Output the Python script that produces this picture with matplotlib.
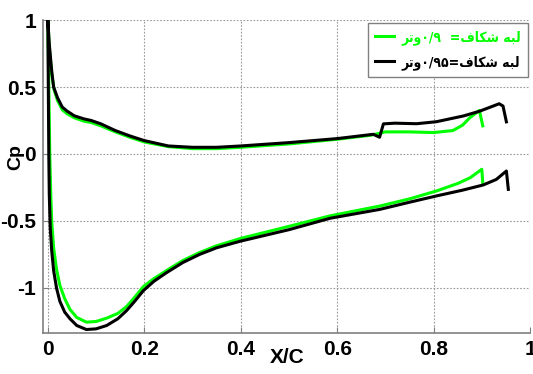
import matplotlib
matplotlib.use("Agg")
import matplotlib.pyplot as plt
import numpy as np

# pressure coefficient along the chord, slot edge at 0.9 chord
x_up_90 = [0.0, 0.003, 0.008, 0.013, 0.02, 0.03, 0.04, 0.055, 0.075, 0.09, 0.11, 0.14,
           0.17, 0.2, 0.25, 0.3, 0.35, 0.4, 0.5, 0.6, 0.67, 0.7, 0.75, 0.8, 0.84,
           0.86, 0.875, 0.895, 0.902]
cp_up_90 = [1.0, 0.8, 0.6, 0.48, 0.4, 0.33, 0.3, 0.27, 0.245, 0.235, 0.21, 0.165,
            0.125, 0.09, 0.055, 0.04, 0.04, 0.05, 0.075, 0.11, 0.14, 0.165, 0.165, 0.16, 0.175,
            0.215, 0.27, 0.325, 0.21]
x_lo_90 = [0.0, 0.002, 0.004, 0.006, 0.008, 0.012, 0.018, 0.025, 0.035, 0.046, 0.06, 0.08,
           0.1, 0.122, 0.145, 0.163, 0.18, 0.198, 0.22, 0.246, 0.28, 0.315, 0.35, 0.4,
           0.5, 0.585, 0.689, 0.75, 0.806, 0.85, 0.876, 0.9, 0.902]
cp_lo_90 = [1.0, 0.5, 0.0, -0.3, -0.5, -0.7, -0.86, -0.98, -1.08, -1.16, -1.22, -1.255,
            -1.25, -1.225, -1.19, -1.14, -1.07, -0.99, -0.93, -0.87, -0.795, -0.735, -0.685, -0.63,
            -0.54, -0.462, -0.388, -0.335, -0.276, -0.22, -0.177, -0.114, -0.214]

# slot edge at 0.95 chord
x_up_95 = [0.0, 0.003, 0.008, 0.012, 0.02, 0.03, 0.04, 0.055, 0.075, 0.09, 0.11, 0.14,
           0.17, 0.2, 0.25, 0.3, 0.35, 0.4, 0.5, 0.6, 0.675, 0.688, 0.696, 0.72, 0.765,
           0.806, 0.862, 0.896, 0.936, 0.944, 0.951]
cp_up_95 = [1.0, 0.82, 0.62, 0.5, 0.42, 0.35, 0.32, 0.285, 0.262, 0.25, 0.225, 0.175,
            0.135, 0.1, 0.06, 0.05, 0.05, 0.06, 0.085, 0.115, 0.147, 0.125, 0.225, 0.23, 0.226,
            0.241, 0.284, 0.32, 0.375, 0.358, 0.24]
x_lo_95 = [0.0, 0.001, 0.002, 0.003, 0.005, 0.008, 0.012, 0.018, 0.025, 0.035, 0.046, 0.06,
           0.08, 0.1, 0.122, 0.145, 0.163, 0.18, 0.198, 0.22, 0.246, 0.28, 0.315, 0.35,
           0.4, 0.5, 0.585, 0.689, 0.75, 0.806, 0.86, 0.903, 0.93, 0.951, 0.955]
cp_lo_95 = [1.0, 0.5, 0.0, -0.3, -0.55, -0.72, -0.87, -1.0, -1.1, -1.18, -1.23, -1.28,
            -1.31, -1.305, -1.28, -1.23, -1.17, -1.1, -1.02, -0.95, -0.886, -0.81, -0.749, -0.7,
            -0.65, -0.565, -0.48, -0.413, -0.36, -0.313, -0.27, -0.231, -0.19, -0.127, -0.264]

x_ticks = [0, 0.2, 0.4, 0.6, 0.8, 1]
y_ticks = [-1, -0.5, 0, 0.5, 1]

# legend labels, pre-shaped Arabic presentation forms in visual order
label_90 = "\uFEAE\uFE97\uFEED" + "\u06F0/\u06F9" + "  =" + "\uFED1\uFE8E\uFB91\uFEB7" + " " + "\uFEEA\uFE92\uFEDF"
label_95 = "\uFEAE\uFE97\uFEED" + "\u06F0/\u06F9\u06F5" + "=" + "\uFED1\uFE8E\uFB91\uFEB7" + " " + "\uFEEA\uFE92\uFEDF"

GREEN = "#00ff00"
font = ["Liberation Sans Narrow", "Liberation Sans", "DejaVu Sans"]
plt.rcParams["font.family"] = font
plt.rcParams["font.weight"] = "bold"

fig = plt.figure(figsize=(5.33, 3.74), dpi=100)
ax = fig.add_axes([0.0807, 0.1096, 0.9137, 0.8369])


def loop(xu, cu, xl, cl):
    # run from trailing edge on upper side, round the nose, back along lower side
    xs = np.concatenate([xu[::-1], xl[1:]])
    cs = np.concatenate([cu[::-1], cl[1:]])
    return xs, cs


xs, cs = loop(x_up_90, cp_up_90, x_lo_90, cp_lo_90)
ax.plot(xs, cs, color=GREEN, lw=2.2, label=label_90, solid_joinstyle="round")
xs, cs = loop(x_up_95, cp_up_95, x_lo_95, cp_lo_95)
ax.plot(xs, cs, color="black", lw=2.2, label=label_95, solid_joinstyle="round")

ax.set_xlim(-0.01, 1.0)
ax.set_ylim(-1.336, 1.0)
ax.set_xticks(x_ticks)
ax.set_xticklabels(["0", "0.2", "0.4", "0.6", "0.8", "1"])
ax.set_yticks(y_ticks)
ax.set_yticklabels(["-1", "-0.5", "0", "0.5", "1"])
ax.grid(True, linestyle=(0, (1.5, 1.5)), color="#9a9a9a", linewidth=0.8)
ax.tick_params(direction="in", length=4, color="#808080", labelsize=15, pad=5)
for s in ("top", "right"):
    ax.spines[s].set_visible(False)
for s in ("left", "bottom"):
    ax.spines[s].set_color("#808080")
    ax.spines[s].set_linewidth(1.2)

fig.text(0.03, 0.58, "Cp", rotation=90, fontsize=14, fontweight="bold",
         ha="center", va="center")
fig.text(0.539, 0.043, "X/C", fontsize=15, fontweight="bold", ha="center", va="center")

leg = ax.legend(loc="upper right", bbox_to_anchor=(0.996, 0.99), borderaxespad=0,
                fancybox=False, edgecolor="#808080", framealpha=1,
                handlelength=1.4, handletextpad=0.5, labelspacing=0.75,
                borderpad=0.5,
                prop={"family": ["DejaVu Sans"], "weight": "bold",
                      "stretch": "condensed", "size": 10},
                labelcolor=[GREEN, "black"])
leg.get_frame().set_linewidth(1.0)

fig.savefig("out.png", dpi=100)
